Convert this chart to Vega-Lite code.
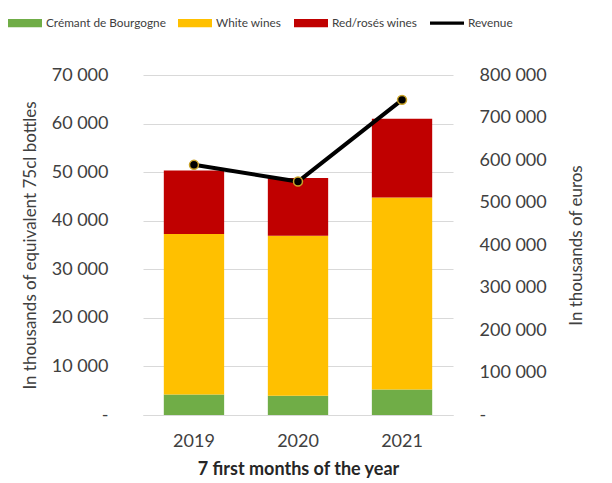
{
  "$schema": "https://vega.github.io/schema/vega-lite/v6.json",
  "width": 310,
  "height": 340,
  "autosize": "none",
  "padding": {"left": 143, "top": 75, "right": 159, "bottom": 68},
  "background": "white",
  "config": {"font": "Lato", "view": {"stroke": null}},
  "datasets": {
    "volumes": [
      {"year": "2019", "type": "Crémant de Bourgogne", "layer": 1, "volume": 4240},
      {"year": "2019", "type": "White wines", "layer": 2, "volume": 33020},
      {"year": "2019", "type": "Red/rosés wines", "layer": 3, "volume": 13070},
      {"year": "2020", "type": "Crémant de Bourgogne", "layer": 1, "volume": 3970},
      {"year": "2020", "type": "White wines", "layer": 2, "volume": 32930},
      {"year": "2020", "type": "Red/rosés wines", "layer": 3, "volume": 11880},
      {"year": "2021", "type": "Crémant de Bourgogne", "layer": 1, "volume": 5270},
      {"year": "2021", "type": "White wines", "layer": 2, "volume": 39510},
      {"year": "2021", "type": "Red/rosés wines", "layer": 3, "volume": 16220}
    ],
    "revenue": [
      {"year": "2019", "revenue": 588600},
      {"year": "2020", "revenue": 549300},
      {"year": "2021", "revenue": 741500}
    ]
  },
  "layer": [
    {
      "data": {"name": "volumes"},
      "mark": {"type": "bar"},
      "encoding": {
        "x": {
          "field": "year", "type": "nominal",
          "scale": {"paddingInner": 0.42, "paddingOuter": 0.2},
          "axis": {"title": "7 first months of the year", "labelAngle": 0, "labelFontSize": 18, "labelColor": "#404040", "labelPadding": 17, "ticks": false, "domain": true, "domainColor": "#D9D9D9", "titleFontSize": 18, "titleFontWeight": "bold", "titleColor": "#262626", "titlePadding": 10}
        },
        "y": {
          "field": "volume", "type": "quantitative", "stack": "zero",
          "scale": {"domain": [0, 70000], "nice": false},
          "axis": {"title": "In thousands of equivalent 75cl bottles", "values": [0, 10000, 20000, 30000, 40000, 50000, 60000, 70000], "labelExpr": "datum.value === 0 ? '-' : replace(format(datum.value, ','), ',', ' ')", "grid": true, "gridColor": "#D9D9D9", "domain": false, "ticks": false, "labelPadding": 35, "labelFontSize": 18, "labelColor": "#404040", "titleFontSize": 17, "titleColor": "#404040", "titleFontWeight": "normal", "titlePadding": 12}
        },
        "color": {
          "field": "type", "type": "nominal",
          "scale": {"domain": ["Crémant de Bourgogne", "White wines", "Red/rosés wines", "Revenue"], "range": ["#70AD47", "#FFC000", "#C00000", "#000000"]},
          "legend": {
            "title": null, "orient": "none", "legendX": -135, "legendY": -69, "direction": "horizontal", "columns": 4,
            "symbolSize": 1156, "symbolType": "M-1,-0.24H1V0.24H-1Z", "symbolStrokeWidth": 0, "symbolOpacity": 1,
            "labelFont": "Lato", "labelFontSize": 11.8, "labelColor": "#404040", "labelOffset": 4, "columnPadding": 12,
            "encode": {"symbols": {"update": {
              "shape": {"signal": "datum.value === 'Revenue' ? 'M-1,-0.09H1V0.09H-1Z' : 'M-1,-0.24H1V0.24H-1Z'"},
              "fill": {"signal": "scale('color', datum.value)"},
              "stroke": {"value": "transparent"}
            }}}
          }
        },
        "order": {"field": "layer", "type": "quantitative"}
      }
    },
    {
      "data": {"name": "revenue"},
      "layer": [
        {
          "mark": {"type": "line", "strokeWidth": 4},
          "encoding": {
            "x": {"field": "year", "type": "nominal"},
            "y": {
              "field": "revenue", "type": "quantitative",
              "scale": {"domain": [0, 800000], "nice": false},
              "axis": {"orient": "right", "title": "In thousands of euros", "values": [0, 100000, 200000, 300000, 400000, 500000, 600000, 700000, 800000], "labelExpr": "datum.value === 0 ? '-' : replace(format(datum.value, ','), ',', ' ')", "grid": false, "domain": false, "ticks": false, "labelPadding": 26, "labelFontSize": 18, "labelColor": "#404040", "titleFontSize": 17, "titleColor": "#404040", "titleFontWeight": "normal", "titleAngle": 270, "titleBaseline": "top", "titlePadding": 22}
            },
            "color": {"datum": "Revenue", "type": "nominal"}
          }
        },
        {
          "mark": {"type": "point", "filled": true, "fill": "#000000", "stroke": "#C9A227", "strokeWidth": 1.5, "size": 80, "opacity": 1},
          "encoding": {
            "x": {"field": "year", "type": "nominal"},
            "y": {"field": "revenue", "type": "quantitative"}
          }
        }
      ]
    }
  ],
  "resolve": {"scale": {"y": "independent"}}
}
